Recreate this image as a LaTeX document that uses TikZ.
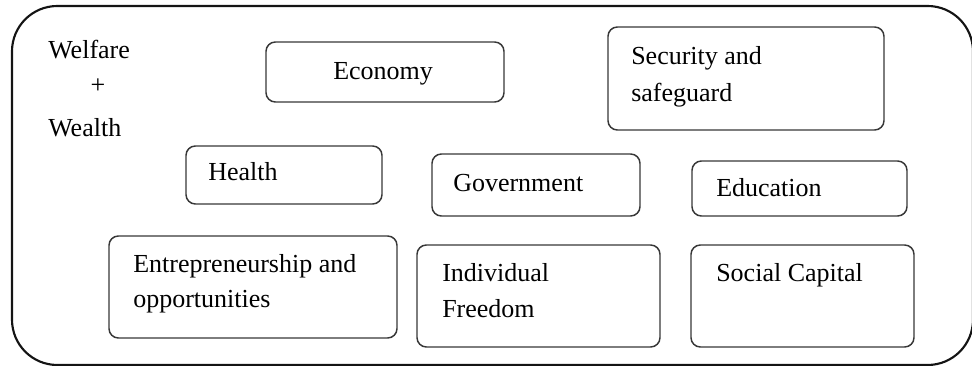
\documentclass[tikz,border=0pt]{standalone}
\usepackage{fontspec}
\setmainfont{Liberation Serif}
\usepackage{xcolor}
\definecolor{Col1}{RGB}{20,20,20}
\definecolor{Col5}{RGB}{55,55,55}
\usepackage{tikz}
\usetikzlibrary{fit}
\tikzstyle{Frame}=[draw=Col1,line width=1.6pt,rounded corners=34pt,
inner sep=0pt]
\tikzstyle{Box}=[draw=Col5,line width=1.1pt,rounded corners=7pt,
inner sep=0pt]
\tikzstyle{Txt}=[anchor=base west,inner sep=0pt,
font=\fontsize{19.5}{23}\selectfont]

\begin{document}
\begin{tikzpicture}[x=.75pt,y=-.75pt]
            \useasboundingbox(0,0)rectangle(972,366);
            \begin{scope}
            \clip(0,0)rectangle(972,366);
            \node[Frame,fit={(12,6)(973,365)}](all){};
            \end{scope}
            %
            \node[Txt](w1)at(48,59){Welfare};
            \node[Txt,anchor=center](w2)at(98,86){+};
            \node[Txt](w3)at(48,137){Wealth};
            %
            \node[Box,fit={(266,42)(504,102)}](eco){};
            \node[Box,fit={(608,27)(884,130)}](sec){};
            \node[Box,fit={(186,146)(382,204)}](hea){};
            \node[Box,fit={(432,154)(640,216)}](gov){};
            \node[Box,fit={(692,161)(907,216)}](edu){};
            \node[Box,fit={(109,236)(397,338)}](ent){};
            \node[Box,fit={(417,245)(660,347)}](ind){};
            \node[Box,fit={(691,245)(914,347)}](soc){};
            %
            \node[Txt](ecoT)at(333,80){Economy};
            \node[Txt](secT1)at(631,65){Security and};
            \node[Txt](secT2)at(631,102){safeguard};
            \node[Txt](heaT)at(208,181){Health};
            \node[Txt](govT)at(453,192){Government};
            \node[Txt](eduT)at(716,197){Education};
            \node[Txt](entT1)at(133,273){Entrepreneurship and};
            \node[Txt](entT2)at(133,308){opportunities};
            \node[Txt](indT1)at(442,282){Individual};
            \node[Txt](indT2)at(442,318){Freedom};
            \node[Txt](socT)at(716,282){Social Capital};
        \end{tikzpicture}
\end{document}
